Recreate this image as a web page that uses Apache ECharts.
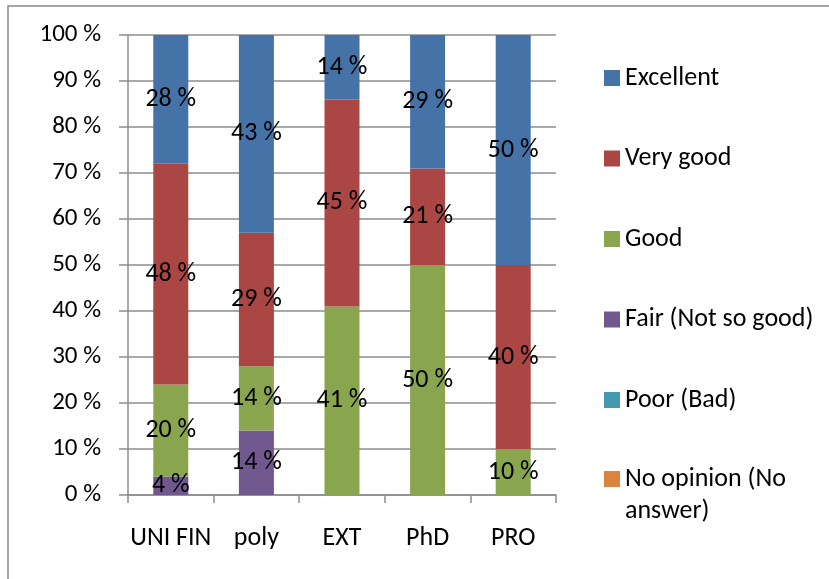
<!DOCTYPE html>
<html>
<head>
<meta charset="utf-8">
<script src="https://cdn.jsdelivr.net/npm/echarts@6/dist/echarts.min.js"></script>
<style>
html,body{margin:0;padding:0;background:#fff;}
#chart{width:829px;height:579px;}
</style>
</head>
<body>
<div id="chart"></div>
<script>
const categories = ['UNI FIN', 'poly', 'EXT', 'PhD', 'PRO'];
const seriesNames = ['Excellent', 'Very good', 'Good', 'Fair (Not so good)', 'Poor (Bad)', 'No opinion (No answer)'];
const noOpinion = [0, 0, 0, 0, 0];
const poor = [0, 0, 0, 0, 0];
const fair = [4, 14, 0, 0, 0];
const good = [20, 14, 41, 50, 10];
const veryGood = [48, 29, 45, 21, 40];
const excellent = [28, 43, 14, 29, 50];
const yTicks = [0, 10, 20, 30, 40, 50, 60, 70, 80, 90, 100];

const FONT = 'Carlito, "Liberation Sans", sans-serif';
const colors = {
  'Excellent': '#4572A7',
  'Very good': '#AA4643',
  'Good': '#89A54E',
  'Fair (Not so good)': '#71588F',
  'Poor (Bad)': '#4198AF',
  'No opinion (No answer)': '#DB843D'
};
// stacking order bottom -> top
const stackOrder = [
  ['No opinion (No answer)', noOpinion],
  ['Poor (Bad)', poor],
  ['Fair (Not so good)', fair],
  ['Good', good],
  ['Very good', veryGood],
  ['Excellent', excellent]
];

const series = stackOrder.map(([name, data]) => ({
  name: name,
  type: 'bar',
  stack: 'total',
  barWidth: 35,
  data: data,
  itemStyle: { color: colors[name] },
  label: {
    show: true,
    position: 'inside',
    color: '#000',
    fontFamily: FONT,
    fontSize: 26,
    formatter: p => p.value > 0 ? p.value + ' %' : ''
  },
  emphasis: { disabled: true }
}));

const chart = echarts.init(document.getElementById('chart'));
chart.setOption({
  animation: false,
  color: seriesNames.map(n => colors[n]),
  graphic: [{
    type: 'rect',
    shape: { x: 8, y: 6, width: 900, height: 700 },
    style: { fill: 'none', stroke: '#888', lineWidth: 1.5 },
    silent: true, z: -10
  }],
  grid: { left: 128, right: 273, top: 35, bottom: 84, containLabel: false },
  legend: [{
    orient: 'vertical',
    left: 599,
    top: 60,
    data: seriesNames.slice(0, 5),
    itemWidth: 16,
    itemHeight: 16,
    itemGap: 54.5,
    icon: 'rect',
    textStyle: { fontFamily: FONT, fontSize: 26, color: '#000', lineHeight: 24 },
    selectedMode: false
  }, {
    orient: 'vertical',
    left: 599,
    top: 426,
    data: seriesNames.slice(5),
    itemWidth: 16,
    itemHeight: 16,
    icon: 'rect',
    formatter: () => '\nNo opinion (No\nanswer)',
    textStyle: { fontFamily: FONT, fontSize: 26, color: '#000', lineHeight: 32 },
    selectedMode: false
  }],
  xAxis: {
    type: 'category',
    data: categories,
    axisLine: { lineStyle: { color: '#8c8c8c', width: 1.5 } },
    axisTick: { show: true, length: 8, lineStyle: { color: '#8c8c8c', width: 1.5 } },
    axisLabel: { color: '#000', fontFamily: FONT, fontSize: 26, margin: 30, interval: 0 }
  },
  yAxis: {
    type: 'value',
    min: 0,
    max: 100,
    interval: 10,
    axisLine: { show: true, lineStyle: { color: '#8c8c8c', width: 1.5 } },
    axisTick: { show: true, length: 9, lineStyle: { color: '#8c8c8c', width: 1.5 } },
    splitLine: { show: true, lineStyle: { color: '#8c8c8c', width: 1.5 } },
    axisLabel: {
      color: '#000', fontFamily: FONT, fontSize: 25, margin: 27,
      formatter: v => yTicks.includes(v) ? v + ' %' : ''
    }
  },
  series: series
});
</script>
</body>
</html>
